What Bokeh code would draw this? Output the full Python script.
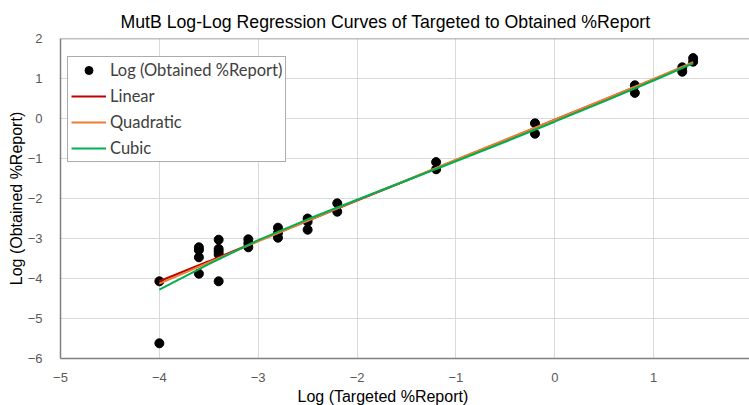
from bokeh.plotting import figure
from bokeh.models import Range1d, SingleIntervalTicker, Legend, LegendItem, Span, Title
from bokeh.embed import file_html
from bokeh.resources import INLINE

# Observed data (log targeted vs log obtained %Report)
obs_x = [-4.0, -4.0,
         -3.6, -3.6, -3.6, -3.6,
         -3.4, -3.4, -3.4, -3.4, -3.4,
         -3.1, -3.1, -3.1,
         -2.8, -2.8, -2.8,
         -2.5, -2.5, -2.5,
         -2.2, -2.2,
         -1.2, -1.2,
         -0.2, -0.2,
         0.81, 0.81,
         1.29, 1.29,
         1.40, 1.40]
obs_y = [-4.07, -5.62,
         -3.22, -3.29, -3.47, -3.88,
         -3.03, -3.26, -3.33, -3.40, -4.07,
         -3.02, -3.12, -3.22,
         -2.73, -2.86, -2.98,
         -2.50, -2.58, -2.78,
         -2.12, -2.33,
         -1.09, -1.27,
         -0.12, -0.38,
         0.83, 0.64,
         1.28, 1.17,
         1.51, 1.42]

# Regression curves
curve_x = [-4.0, -3.5, -3.0, -2.5, -2.0, -1.5, -1.0, -0.5, 0.0, 0.5, 1.0, 1.4]
linear_y = [-4.07, -3.57, -3.06, -2.56, -2.05, -1.55, -1.04, -0.54, -0.03, 0.47, 0.98, 1.39]
quad_y = [-4.13, -3.60, -3.07, -2.56, -2.04, -1.54, -1.03, -0.53, -0.03, 0.48, 0.99, 1.41]
cubic_y = [-4.28, -3.64, -3.04, -2.52, -2.03, -1.55, -1.07, -0.58, -0.08, 0.43, 0.95, 1.38]

tick_interval = 1
title_text = "MutB Log-Log Regression Curves of Targeted to Obtained %Report"
x_label = "Log (Targeted %Report)"
y_label = "Log (Obtained %Report)"

p = figure(width=749, height=405, output_backend="svg", toolbar_location=None,
           x_range=Range1d(-5, 1.97), y_range=Range1d(-6, 2),
           min_border_left=60, min_border_right=0, min_border_top=38, min_border_bottom=47)

p.title.text = title_text
p.title.align = "left"
p.title.offset = 60
p.title.standoff = 14
p.title.text_font = "Liberation Sans"
p.title.text_font_size = "17.7px"
p.title.text_font_style = "normal"
p.title.text_color = "#000000"

p.outline_line_color = None
p.background_fill_color = "white"
p.border_fill_color = "white"

for ax in (p.xaxis[0], p.yaxis[0]):
    ax.ticker = SingleIntervalTicker(interval=tick_interval)
    ax.minor_tick_line_color = None
    ax.major_tick_line_color = None
    ax.major_tick_out = 0
    ax.major_tick_in = 0
    ax.axis_line_color = "#808080"
    ax.axis_line_width = 1.5
    ax.major_label_text_font = "Liberation Sans"
    ax.major_label_text_font_size = "13px"
    ax.major_label_text_color = "#595959"
    ax.axis_label_text_font = "Liberation Sans"
    ax.axis_label_text_font_size = "16px"
    ax.axis_label_text_font_style = "normal"
    ax.axis_label_text_color = "#000000"

p.yaxis.axis_label = y_label
p.xaxis.major_label_standoff = 10
p.yaxis.major_label_standoff = 14
p.yaxis.axis_label_standoff = 0

xt = Title(text=x_label, align="left", offset=237, standoff=2,
           text_font="Liberation Sans", text_font_size="16px",
           text_font_style="normal", text_color="#000000")
p.add_layout(xt, "below")

p.xgrid.ticker = SingleIntervalTicker(interval=tick_interval)
p.ygrid.ticker = SingleIntervalTicker(interval=tick_interval)
p.grid.grid_line_color = "#d9d9d9"
p.grid.grid_line_width = 1

p.add_layout(Span(location=2, dimension="width", line_color="#808080", line_width=1.5))

pts = p.scatter(obs_x, obs_y, size=9, color="black")
l1 = p.line(curve_x, linear_y, line_color="#C00000", line_width=2)
l2 = p.line(curve_x, quad_y, line_color="#ED7D31", line_width=2)
l3 = p.line(curve_x, cubic_y, line_color="#00B050", line_width=2)

legend = Legend(items=[
    LegendItem(label="Log (Obtained %Report)", renderers=[pts]),
    LegendItem(label="Linear", renderers=[l1]),
    LegendItem(label="Quadratic", renderers=[l2]),
    LegendItem(label="Cubic", renderers=[l3]),
], location=(7, 196))
legend.label_text_font = "Lato"
legend.label_text_font_size = "16.5px"
legend.label_text_color = "#404040"
legend.glyph_width = 35
legend.glyph_height = 20
legend.label_height = 20
legend.spacing = 6
legend.padding = 3
legend.margin = 0
legend.label_standoff = 4
legend.border_line_color = "#595959"
legend.border_line_width = 1.5
legend.background_fill_color = "white"
legend.background_fill_alpha = 1
p.add_layout(legend, "center")

open("out.html", "w").write(file_html(p, INLINE))
